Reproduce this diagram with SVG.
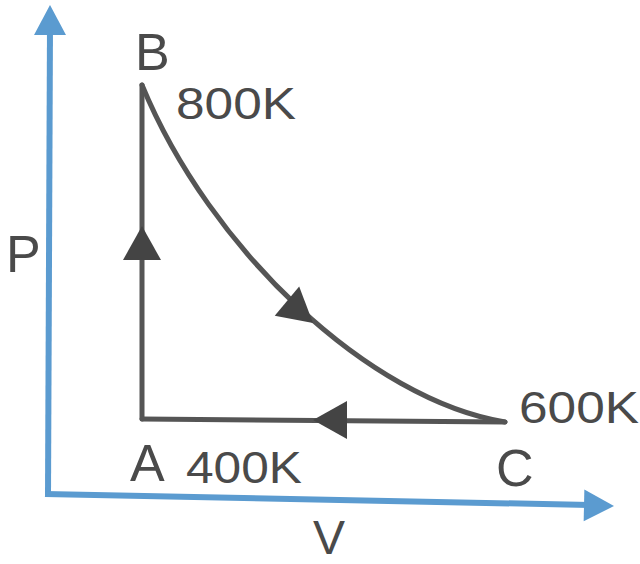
<svg xmlns="http://www.w3.org/2000/svg" width="640" height="564" viewBox="0 0 640 564">
<style>
.ln{fill:none;stroke:#555;stroke-width:5;stroke-linecap:round}
.ax{fill:none;stroke:#5b9bd0;stroke-width:6}
.ah{fill:#444}
.aah{fill:#5b9bd0}
.t{font-family:"Liberation Sans",Arial,sans-serif;fill:#4a4a4a}
.big{font-size:52px}
.num{font-size:44px}
</style>
<defs>
<path id="h" d="M0,0 L-34,-19 L-34,19 Z"/>
<path id="ha" d="M0,0 L-30,-16 L-30,16 Z"/>
</defs>
<rect width="640" height="564" fill="#fff"/>
<g id="axes">
<line class="ax" x1="48" y1="496" x2="50" y2="25"/>
<line class="ax" x1="45" y1="494" x2="590" y2="505"/>
<use href="#ha" class="aah" transform="translate(50,5) rotate(-90)"/>
<use href="#ha" class="aah" transform="translate(614,506) rotate(1.2)"/>
<text class="t big" x="6" y="272">P</text>
<text class="t" x="313" y="554" font-size="48">V</text>
</g>
<g id="connectors">
<line class="ln" x1="142" y1="419" x2="142" y2="85"/>
<path class="ln" d="M142,85 C210,250 370,400 505,422"/>
<line class="ln" x1="505" y1="422" x2="142" y2="419"/>
<use href="#h" class="ah" transform="translate(142,226) rotate(-90)"/>
<use href="#h" class="ah" transform="translate(313,323) rotate(40)"/>
<use href="#h" class="ah" transform="translate(313,420) rotate(180)"/>
</g>
<g id="node-B">
<text class="t big" x="135" y="70">B</text>
<text class="t num" x="176" y="119" textLength="120" lengthAdjust="spacingAndGlyphs">800K</text>
</g>
<g id="node-A">
<text class="t big" x="130" y="481">A</text>
<text class="t num" x="186" y="483" textLength="116" lengthAdjust="spacingAndGlyphs">400K</text>
</g>
<g id="node-C">
<text class="t big" x="496" y="486">C</text>
<text class="t num" x="519" y="423" textLength="120" lengthAdjust="spacingAndGlyphs">600K</text>
</g>
</svg>
